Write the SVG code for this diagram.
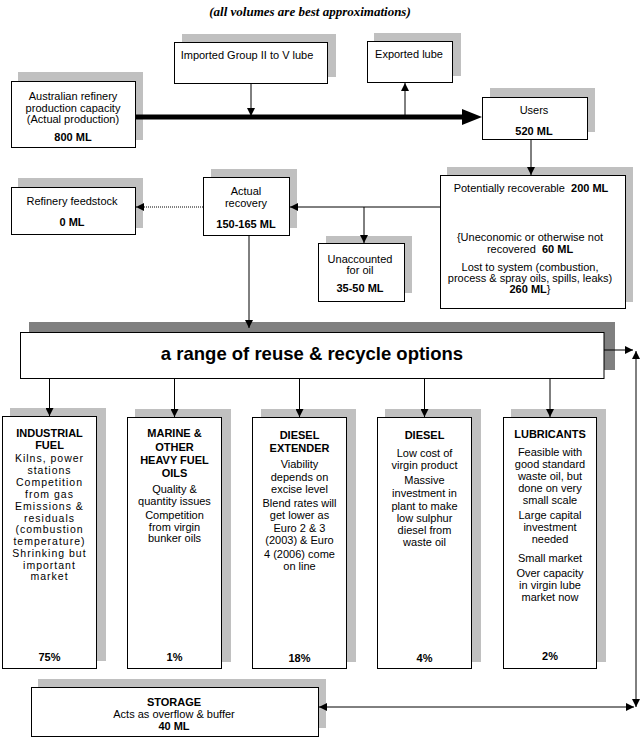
<svg xmlns="http://www.w3.org/2000/svg" width="644" height="746" viewBox="0 0 644 746">
<style>
.sh{fill:#c0c0c0}
.bx{fill:#fff;stroke:#000;stroke-width:1}
text{font-family:"Liberation Sans",Arial,sans-serif;font-size:11px;fill:#000;text-anchor:middle}
.b{font-weight:bold}
.ln{stroke:#000;stroke-width:1;fill:none}
.sp{letter-spacing:1px;font-size:10.5px}
</style>
<defs>
<marker id="ah" viewBox="0 0 10 10" refX="10" refY="5" markerWidth="8" markerHeight="8" markerUnits="userSpaceOnUse" orient="auto-start-reverse">
<path d="M0,0 L10,5 L0,10 z" fill="#000"/>
</marker>
</defs>
<rect width="644" height="746" fill="#fff"/>
<text x="310" y="16" style="font-family:'Liberation Serif','Times New Roman',serif;font-weight:bold;font-style:italic;font-size:13px">(all volumes are best approximations)</text>

<g id="imported">
<rect class="sh" x="182" y="34" width="154" height="43"/>
<rect class="bx" x="174.5" y="42.5" width="153" height="41"/>
<text x="247" y="59">Imported Group II to V lube</text>
</g>
<g id="exported">
<rect class="sh" x="374" y="33" width="87" height="43"/>
<rect class="bx" x="367.5" y="41.5" width="85" height="41"/>
<text x="409" y="58">Exported lube</text>
</g>
<g id="australian">
<rect class="sh" x="18" y="72" width="125" height="68"/>
<rect class="bx" x="11.5" y="81.5" width="124" height="66"/>
<text x="73" y="100">Australian refinery</text>
<text x="73" y="111.5">production capacity</text>
<text x="73" y="122.5">(Actual production)</text>
<text x="73" y="141" class="b">800 ML</text>
</g>
<g id="users">
<rect class="sh" x="490" y="88" width="105" height="44"/>
<rect class="bx" x="482.5" y="97.5" width="105" height="42"/>
<text x="534" y="114">Users</text>
<text x="534" y="135" class="b">520 ML</text>
</g>
<g id="potentially">
<rect class="sh" x="447" y="167" width="186" height="135"/>
<rect class="bx" x="440.5" y="175.5" width="185" height="133"/>
<text x="531" y="192">Potentially recoverable&#160; <tspan class="b">200 ML</tspan></text>
<text x="530" y="241">{Uneconomic or otherwise not</text>
<text x="530" y="253">recovered&#160; <tspan class="b">60 ML</tspan></text>
<text x="530" y="271">Lost to system (combustion,</text>
<text x="530" y="282">process &amp; spray oils, spills, leaks)</text>
<text x="530" y="293"><tspan class="b">260 ML</tspan>}</text>
</g>
<g id="actual">
<rect class="sh" x="211" y="169" width="86" height="59"/>
<rect class="bx" x="203.5" y="177.5" width="86" height="58"/>
<text x="246" y="195">Actual</text>
<text x="246" y="207">recovery</text>
<text x="246" y="228" class="b">150-165 ML</text>
</g>
<g id="refinery">
<rect class="sh" x="18" y="178" width="125" height="50"/>
<rect class="bx" x="11.5" y="187.5" width="124" height="47"/>
<text x="72" y="205">Refinery feedstock</text>
<text x="72" y="226" class="b">0 ML</text>
</g>
<g id="unaccounted">
<rect class="sh" x="326" y="236" width="86" height="57"/>
<rect class="bx" x="318.5" y="243.5" width="86" height="58"/>
<text x="360" y="263">Unaccounted</text>
<text x="360" y="274">for oil</text>
<text x="360" y="292" class="b">35-50 ML</text>
</g>
<g id="options">
<rect x="29" y="322" width="586" height="48" fill="#808080"/>
<rect class="bx" x="20.5" y="332.5" width="583.5" height="46"/>
<text x="312" y="360" class="b" style="font-size:18.5px">a range of reuse &amp; recycle options</text>
</g>
<g id="industrial">
<rect class="sh" x="10" y="408" width="96" height="253"/>
<rect class="bx" x="2.5" y="416.5" width="94" height="252"/>
<text x="49.5" y="437" class="b">INDUSTRIAL</text>
<text x="49.5" y="449" class="b">FUEL</text>
<text class="sp" x="49.5" y="462">Kilns, power</text>
<text class="sp" x="49.5" y="473.5">stations</text>
<text class="sp" x="49.5" y="486">Competition</text>
<text class="sp" x="49.5" y="497.5">from gas</text>
<text class="sp" x="49.5" y="510">Emissions &amp;</text>
<text class="sp" x="49.5" y="521.5">residuals</text>
<text class="sp" x="49.5" y="533">(combustion</text>
<text class="sp" x="49.5" y="544.5">temperature)</text>
<text class="sp" x="49.5" y="557">Shrinking but</text>
<text class="sp" x="49.5" y="568.5">important</text>
<text class="sp" x="49.5" y="580">market</text>
<text x="49.5" y="661" class="b">75%</text>
</g>
<g id="marine">
<rect class="sh" x="135" y="409" width="96" height="253"/>
<rect class="bx" x="127.5" y="417.5" width="94" height="251"/>
<text x="174.5" y="437" class="b">MARINE &amp;</text>
<text x="174.5" y="451" class="b">OTHER</text>
<text x="174.5" y="464" class="b">HEAVY FUEL</text>
<text x="174.5" y="477" class="b">OILS</text>
<text x="174.5" y="493">Quality &amp;</text>
<text x="174.5" y="505">quantity issues</text>
<text x="174.5" y="519">Competition</text>
<text x="174.5" y="530.5">from virgin</text>
<text x="174.5" y="542">bunker oils</text>
<text x="174.5" y="661" class="b">1%</text>
</g>
<g id="extender">
<rect class="sh" x="261" y="409" width="95" height="253"/>
<rect class="bx" x="252.5" y="417.5" width="94" height="251"/>
<text x="299.5" y="439" class="b">DIESEL</text>
<text x="299.5" y="452" class="b">EXTENDER</text>
<text x="299.5" y="468">Viability</text>
<text x="299.5" y="481">depends on</text>
<text x="299.5" y="493">excise level</text>
<text x="299.5" y="507">Blend rates will</text>
<text x="299.5" y="519">get lower as</text>
<text x="299.5" y="532">Euro 2 &amp; 3</text>
<text x="299.5" y="544">(2003) &amp; Euro</text>
<text x="299.5" y="558">4 (2006) come</text>
<text x="299.5" y="570">on line</text>
<text x="299.5" y="662" class="b">18%</text>
</g>
<g id="diesel">
<rect class="sh" x="385" y="409" width="96" height="253"/>
<rect class="bx" x="377.5" y="417.5" width="94" height="251"/>
<text x="424.5" y="439" class="b">DIESEL</text>
<text x="424.5" y="457">Low cost of</text>
<text x="424.5" y="469">virgin product</text>
<text x="424.5" y="484">Massive</text>
<text x="424.5" y="497">investment in</text>
<text x="424.5" y="510">plant to make</text>
<text x="424.5" y="522">low sulphur</text>
<text x="424.5" y="534">diesel from</text>
<text x="424.5" y="546">waste oil</text>
<text x="424.5" y="662" class="b">4%</text>
</g>
<g id="lubricants">
<rect class="sh" x="511" y="409" width="95" height="253"/>
<rect class="bx" x="503.5" y="417.5" width="93" height="251"/>
<text x="550" y="438" class="b">LUBRICANTS</text>
<text x="550" y="456">Feasible with</text>
<text x="550" y="468">good standard</text>
<text x="550" y="480">waste oil, but</text>
<text x="550" y="492">done on very</text>
<text x="550" y="504">small scale</text>
<text x="550" y="519">Large capital</text>
<text x="550" y="531">investment</text>
<text x="550" y="543">needed</text>
<text x="550" y="562">Small market</text>
<text x="550" y="577">Over capacity</text>
<text x="550" y="589">in virgin lube</text>
<text x="550" y="601">market now</text>
<text x="550" y="660" class="b">2%</text>
</g>
<g id="storage">
<rect class="sh" x="38" y="679" width="288" height="49"/>
<rect class="bx" x="31.5" y="687.5" width="287" height="49"/>
<text x="174" y="706" class="b">STORAGE</text>
<text x="174" y="717.5">Acts as overflow &amp; buffer</text>
<text x="174" y="729.5" class="b">40 ML</text>
</g>

<g id="connectors">
<line x1="135.5" y1="117" x2="466" y2="117" stroke="#000" stroke-width="5"/>
<polygon points="462,109 482,117 462,125" fill="#000"/>
<path class="ln" d="M251,84 V116" marker-end="url(#ah)"/>
<path class="ln" d="M405,115 V83" marker-end="url(#ah)"/>
<path class="ln" d="M531,140 V175" marker-end="url(#ah)"/>
<path class="ln" d="M440,207 H290" marker-end="url(#ah)"/>
<path class="ln" d="M364,207 V243" marker-end="url(#ah)"/>
<path class="ln" d="M203,207 H136" stroke-dasharray="1,1" marker-end="url(#ah)"/>
<path class="ln" d="M249,236 V328" marker-end="url(#ah)"/>
<path class="ln" d="M49.5,379 V416" marker-end="url(#ah)"/>
<path class="ln" d="M174.5,379 V417" marker-end="url(#ah)"/>
<path class="ln" d="M299.5,379 V417" marker-end="url(#ah)"/>
<path class="ln" d="M424.5,379 V417" marker-end="url(#ah)"/>
<path class="ln" d="M550,379 V417" marker-end="url(#ah)"/>
<path class="ln" d="M604,350 H633" marker-end="url(#ah)"/>
<path class="ln" d="M636,351 V707" marker-start="url(#ah)" marker-end="url(#ah)"/>
<path class="ln" d="M319,707 H634" marker-start="url(#ah)" marker-end="url(#ah)"/>
</g>
</svg>
